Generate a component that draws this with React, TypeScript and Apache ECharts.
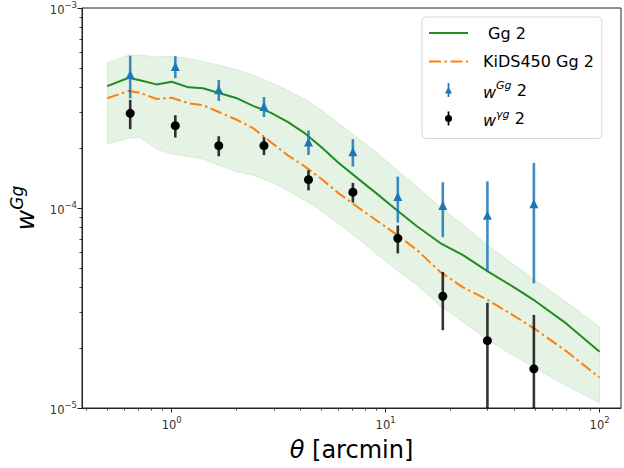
import React, { useEffect, useRef } from 'react';
import * as echarts from 'echarts';

const FONT = 'DejaVu Sans';

// Axis ranges (log scales)
const X_MIN = 0.381;
const X_MAX = 125.9;
const Y_MIN = 1e-5;
const Y_MAX = 1e-3;

// Major / minor tick positions
const xMajor = [1, 10, 100];
const xMinor = [0.4, 0.5, 0.6, 0.7, 0.8, 0.9, 2, 3, 4, 5, 6, 7, 8, 9, 20, 30, 40, 50, 60, 70, 80, 90];
const yMajor = [1e-5, 1e-4, 1e-3];
const yMinor = [2e-5, 3e-5, 4e-5, 5e-5, 6e-5, 7e-5, 8e-5, 9e-5, 2e-4, 3e-4, 4e-4, 5e-4, 6e-4, 7e-4, 8e-4, 9e-4];

// Model curves
const thetaModel = [0.5, 0.63, 0.71, 0.85, 1.0, 1.2, 1.4, 1.65, 2.0, 2.4, 2.9, 3.5, 4.2, 5.0, 6.0, 7.5, 9.0, 11, 14, 18, 23, 30, 40, 50, 70, 100];
const ggModel = [4.07e-4, 4.48e-4, 4.35e-4, 4.15e-4, 4.28e-4, 4.01e-4, 3.97e-4, 3.77e-4, 3.55e-4, 3.24e-4, 3.0e-4, 2.69e-4, 2.36e-4, 2.02e-4, 1.69e-4, 1.39e-4, 1.19e-4, 9.97e-5, 8.1e-5, 6.68e-5, 5.81e-5, 4.82e-5, 4.0e-5, 3.43e-5, 2.64e-5, 1.91e-5];
const kidsModel = [3.54e-4, 3.85e-4, 3.77e-4, 3.51e-4, 3.56e-4, 3.34e-4, 3.27e-4, 3.03e-4, 2.77e-4, 2.51e-4, 2.14e-4, 1.83e-4, 1.61e-4, 1.40e-4, 1.19e-4, 1.0e-4, 8.71e-5, 7.49e-5, 6.17e-5, 4.79e-5, 4.01e-5, 3.47e-5, 2.88e-5, 2.48e-5, 1.92e-5, 1.42e-5];
const bandUpper = [5.33e-4, 5.82e-4, 5.82e-4, 5.69e-4, 5.75e-4, 5.59e-4, 5.40e-4, 5.19e-4, 4.92e-4, 4.62e-4, 4.24e-4, 3.87e-4, 3.50e-4, 3.09e-4, 2.66e-4, 2.22e-4, 1.91e-4, 1.59e-4, 1.28e-4, 1.01e-4, 8.26e-5, 6.53e-5, 5.19e-5, 4.37e-5, 3.39e-5, 2.55e-5];
const bandLower = [2.09e-4, 2.23e-4, 2.25e-4, 1.97e-4, 1.86e-4, 1.81e-4, 1.76e-4, 1.64e-4, 1.52e-4, 1.46e-4, 1.35e-4, 1.22e-4, 1.09e-4, 9.65e-5, 8.4e-5, 6.96e-5, 5.93e-5, 4.99e-5, 4.12e-5, 3.24e-5, 2.69e-5, 2.19e-5, 1.82e-5, 1.58e-5, 1.29e-5, 1.06e-5];

// Measurements
const thetaData = [0.64, 1.04, 1.66, 2.7, 4.36, 7.03, 11.4, 18.5, 29.9, 49.3];
const wGg = [4.65e-4, 5.1e-4, 3.9e-4, 3.22e-4, 2.14e-4, 1.91e-4, 1.14e-4, 1.03e-4, 9.2e-5, 1.05e-4];
const wGgErr = [1.12e-4, 6.4e-5, 4.7e-5, 3.7e-5, 3.0e-5, 3.0e-5, 2.95e-5, 3.15e-5, 4.4e-5, 6.3e-5];
const wyg = [2.975e-4, 2.58e-4, 2.05e-4, 2.05e-4, 1.385e-4, 1.2e-4, 7.05e-5, 3.62e-5, 2.17e-5, 1.57e-5];
const wygErr = [4.95e-5, 3.3e-5, 2.35e-5, 2.1e-5, 1.6e-5, 1.35e-5, 1.12e-5, 1.17e-5, 1.19e-5, 1.35e-5];

const GREEN = '#228b22';
const ORANGE = '#ff7f0e';
const BLUE = '#1f77b4';

const TRI_BAR = 'path://M4,0L6,0L6,16L4,16Z M5,4L9,12L1,12Z';
const DOT_BAR = 'path://M4,0L6,0L6,16L4,16Z M1,8A4,4 0 1 1 9,8A4,4 0 1 1 1,8Z';

const powLabel = (v: number) => {
  const e = Math.log10(v);
  const r = Math.round(e);
  if (Math.abs(e - r) > 1e-6) return '';
  return `{b|10}{s|${r < 0 ? '\u2212' : ''}${Math.abs(r)}}`;
};

const tickRich = {
  b: { fontSize: 11.5, fontFamily: FONT, color: '#333', lineHeight: 16, verticalAlign: 'bottom' },
  s: { fontSize: 8.5, fontFamily: FONT, color: '#333', lineHeight: 9, verticalAlign: 'top' },
};

const errorBarSeries = (name: string, vals: number[], errs: number[], color: string) => ({
  type: 'custom',
  name,
  coordinateSystem: 'cartesian2d',
  silent: true,
  z: 3,
  encode: { x: 0, y: [1, 2] },
  data: thetaData.map((t, i) => [t, Math.max(vals[i] - errs[i], Y_MIN), vals[i] + errs[i]]),
  renderItem: (_params: any, api: any) => {
    const top = api.coord([api.value(0), api.value(2)]);
    const bottom = api.coord([api.value(0), api.value(1)]);
    return {
      type: 'line',
      shape: { x1: top[0], y1: top[1], x2: bottom[0], y2: bottom[1] },
      style: { stroke: color, lineWidth: 2.6 },
    };
  },
});

const legendNames: Record<string, string> = {
  'Gg 2': '\u00a0Gg 2',
  'KiDS450 Gg 2': 'KiDS450 Gg 2',
  'wGg 2': '{it|w}{sup|Gg} 2',
  'wyg 2': '{it|w}{sup|\u03b3g} 2',
};

export default function App() {
  const ref = useRef<HTMLDivElement>(null);

  useEffect(() => {
    if (!ref.current) return;
    const chart = echarts.init(ref.current, undefined, { renderer: 'svg' });

    const option: any = {
      animation: false,
      backgroundColor: '#fff',
      grid: {
        left: 76, right: 3, top: 8, bottom: 60,
        show: true, borderColor: '#222', borderWidth: 1, backgroundColor: 'transparent',
      },
      xAxis: [
        {
          type: 'log', logBase: 10, min: X_MIN, max: X_MAX, position: 'bottom',
          name: '{t|\u03b8} [arcmin]', nameLocation: 'middle', nameGap: 30,
          nameTextStyle: {
            fontFamily: FONT, fontSize: 24, color: '#000',
            rich: { t: { fontFamily: FONT, fontSize: 24, fontStyle: 'italic', color: '#000' } },
          },
          axisLine: { show: true, lineStyle: { color: '#222', width: 1 } },
          axisTick: { show: true, inside: false, length: 4.5, customValues: xMajor, lineStyle: { color: '#222' } },
          axisLabel: { show: true, margin: 7, customValues: xMajor, formatter: powLabel, rich: tickRich },
          splitLine: { show: false },
          minorTick: { show: false },
        },
        {
          type: 'log', logBase: 10, min: X_MIN, max: X_MAX, position: 'bottom',
          axisLine: { show: false },
          axisTick: { show: true, inside: false, length: 2.6, customValues: xMinor, lineStyle: { color: '#222', width: 0.8 } },
          axisLabel: { show: false },
          splitLine: { show: false },
        },
      ],
      yAxis: [
        {
          type: 'log', logBase: 10, min: Y_MIN, max: Y_MAX, position: 'left',
          name: '{w|w}{g|Gg}', nameLocation: 'middle', nameGap: 44, nameRotate: 90,
          nameTextStyle: {
            fontFamily: FONT, fontSize: 24, color: '#000',
            rich: {
              w: { fontFamily: FONT, fontSize: 25, fontStyle: 'italic', color: '#000', lineHeight: 30, verticalAlign: 'bottom' },
              g: { fontFamily: FONT, fontSize: 17, fontStyle: 'italic', color: '#000', lineHeight: 18, verticalAlign: 'top' },
            },
          },
          axisLine: { show: true, lineStyle: { color: '#222', width: 1 } },
          axisTick: { show: true, inside: false, length: 4.5, customValues: yMajor, lineStyle: { color: '#222' } },
          axisLabel: { show: true, margin: 5, customValues: yMajor, formatter: powLabel, rich: tickRich },
          splitLine: { show: false },
        },
        {
          type: 'log', logBase: 10, min: Y_MIN, max: Y_MAX, position: 'left',
          axisLine: { show: false },
          axisTick: { show: true, inside: false, length: 2.6, customValues: yMinor, lineStyle: { color: '#222', width: 0.8 } },
          axisLabel: { show: false },
          splitLine: { show: false },
        },
      ],
      legend: {
        orient: 'vertical', left: 422, top: 17,
        itemWidth: 39, itemHeight: 14, itemGap: 8.5,
        padding: [6, 8, 10, 6],
        backgroundColor: 'rgba(255,255,255,0.85)', borderColor: '#d6d6d6', borderWidth: 1, borderRadius: 4,
        selectedMode: false,
        symbolKeepAspect: true,
        data: [
          { name: 'Gg 2', itemStyle: { opacity: 0 } },
          { name: 'KiDS450 Gg 2', itemStyle: { opacity: 0 } },
          { name: 'wGg 2', icon: TRI_BAR },
          { name: 'wyg 2', icon: DOT_BAR },
        ],
        formatter: (name: string) => legendNames[name] ?? name,
        textStyle: {
          fontFamily: FONT, fontSize: 16, color: '#000', lineHeight: 20, padding: [0, 0, 0, 10],
          rich: {
            it: { fontFamily: FONT, fontSize: 16, fontStyle: 'italic', color: '#000', lineHeight: 20, verticalAlign: 'bottom' },
            sup: { fontFamily: FONT, fontSize: 11, fontStyle: 'italic', color: '#000', lineHeight: 12, verticalAlign: 'top' },
          },
        },
      },
      series: [
        {
          type: 'custom',
          name: 'band',
          coordinateSystem: 'cartesian2d',
          silent: true,
          z: 1,
          data: [[thetaModel[0], bandUpper[0]]],
          renderItem: (_params: any, api: any) => {
            const pts: number[][] = [];
            thetaModel.forEach((t, i) => pts.push(api.coord([t, bandUpper[i]])));
            for (let i = thetaModel.length - 1; i >= 0; i--) pts.push(api.coord([thetaModel[i], bandLower[i]]));
            return {
              type: 'polygon',
              shape: { points: pts },
              style: { fill: 'rgba(44,160,44,0.13)', stroke: 'rgba(44,160,44,0.12)', lineWidth: 1 },
            };
          },
        },
        {
          type: 'line',
          name: 'Gg 2',
          z: 2,
          data: thetaModel.map((t, i) => [t, ggModel[i]]),
          showSymbol: false,
          symbol: 'none',
          lineStyle: { color: GREEN, width: 2 },
          itemStyle: { color: GREEN },
        },
        {
          type: 'line',
          name: 'KiDS450 Gg 2',
          z: 2,
          data: thetaModel.map((t, i) => [t, kidsModel[i]]),
          showSymbol: false,
          symbol: 'none',
          lineStyle: { color: ORANGE, width: 2, type: [12, 3.5, 2.5, 3.5] },
          itemStyle: { color: ORANGE },
        },
        errorBarSeries('wGg err', wGg, wGgErr, 'rgba(31,119,180,0.85)'),
        errorBarSeries('wyg err', wyg, wygErr, 'rgba(0,0,0,0.8)'),
        {
          type: 'scatter',
          name: 'wGg 2',
          z: 4,
          symbol: 'triangle',
          symbolSize: [9, 9],
          data: thetaData.map((t, i) => [t, wGg[i]]),
          itemStyle: { color: BLUE, opacity: 1 },
        },
        {
          type: 'scatter',
          name: 'wyg 2',
          z: 4,
          symbol: 'circle',
          symbolSize: 9,
          data: thetaData.map((t, i) => [t, wyg[i]]),
          itemStyle: { color: '#000', opacity: 1 },
        },
      ],
    };

    chart.setOption(option);
    return () => chart.dispose();
  }, []);

  return (
    <div
      ref={ref}
      style={{ position: 'fixed', left: 0, top: 0, width: 624, height: 468, background: '#fff' }}
    />
  );
}
